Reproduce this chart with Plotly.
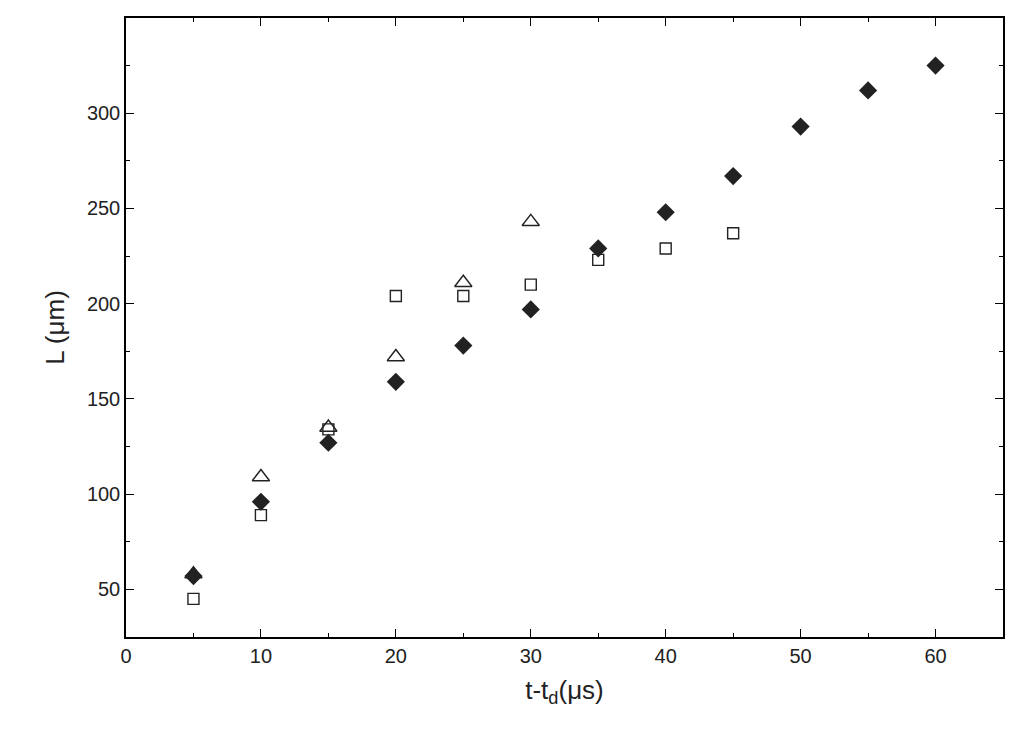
import plotly.graph_objects as go

# time after delay (us)
t_diamond = [5, 10, 15, 20, 25, 30, 35, 40, 45, 50, 55, 60]
L_diamond = [57, 96, 127, 159, 178, 197, 229, 248, 267, 293, 312, 325]

t_square = [5, 10, 15, 20, 25, 30, 35, 40, 45]
L_square = [45, 89, 134, 204, 204, 210, 223, 229, 237]

t_triangle = [5, 10, 15, 20, 25, 30]
L_triangle = [58, 109, 135, 172, 211, 243]

fig = go.Figure()
fig.add_trace(go.Scatter(x=t_square, y=L_square, mode="markers",
                         marker=dict(symbol="square-open", size=11, color="#222", line=dict(width=1.4))))
fig.add_trace(go.Scatter(x=t_triangle, y=L_triangle, mode="markers",
                         marker=dict(symbol="triangle-up-open", size=15, color="#222", line=dict(width=1.4))))
fig.add_trace(go.Scatter(x=t_diamond, y=L_diamond, mode="markers",
                         marker=dict(symbol="diamond", size=14, color="#222")))

axis_common = dict(showgrid=False, zeroline=False, showline=True, linecolor="black", linewidth=1.5,
                   mirror="allticks", ticks="inside", ticklen=8, tickwidth=1.3, tickcolor="black",
                   tickfont=dict(family="Liberation Sans, Arial", size=20, color="#222"))

fig.update_layout(
    width=1022, height=746,
    margin=dict(l=118, r=27, t=8, b=117),
    paper_bgcolor="white", plot_bgcolor="white",
    showlegend=False,
    xaxis=dict(range=[0, 65], dtick=10,
               minor=dict(dtick=5, ticks="inside", ticklen=4, tickcolor="black"),
               title=dict(text="t-t<sub>d</sub>(μs)", font=dict(family="Liberation Sans, Arial", size=26, color="#222")),
               **axis_common),
    yaxis=dict(range=[25, 350], tickvals=[50, 100, 150, 200, 250, 300, 350],
               minor=dict(tickvals=[25, 75, 125, 175, 225, 275, 325], ticks="inside", ticklen=4, tickcolor="black"),
               title=dict(text="L (μm)", font=dict(family="Liberation Sans, Arial", size=26, color="#222")),
               **axis_common),
)

fig.write_html("out.html")
